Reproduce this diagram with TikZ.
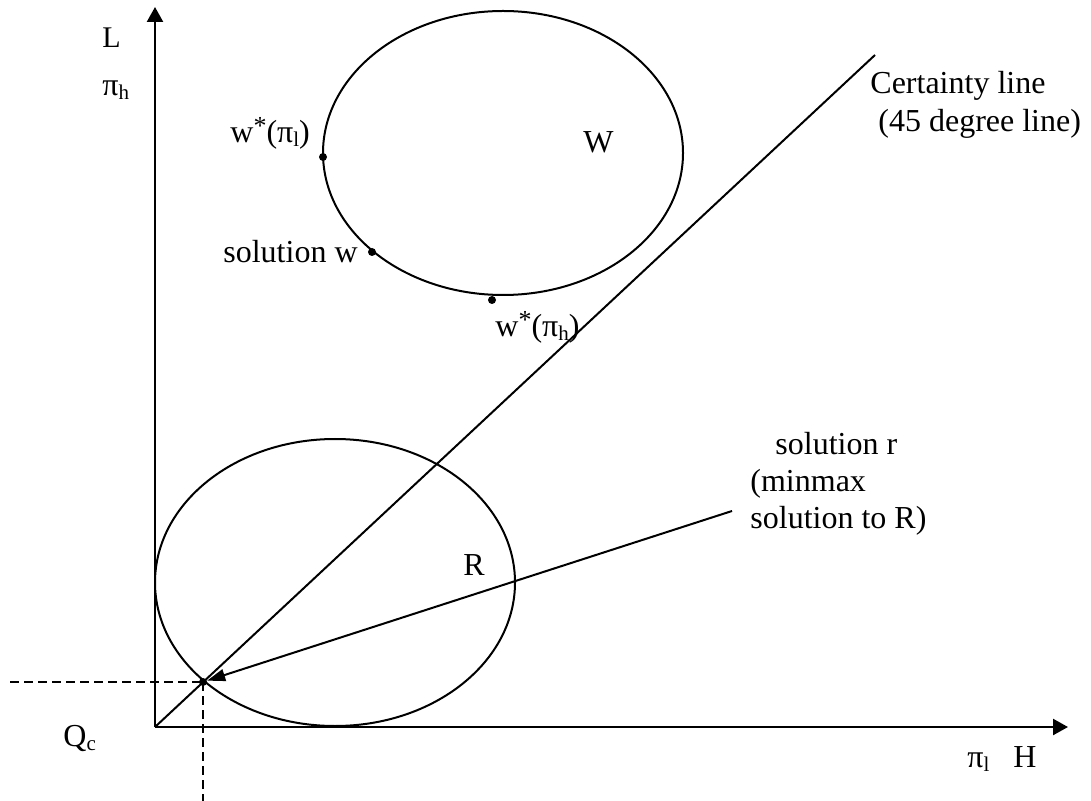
\documentclass[tikz,border=0pt]{standalone}
\usepackage{fontspec}
\setmainfont{Liberation Serif}
\usepackage{tikz}
\usetikzlibrary{arrows.meta,shapes.geometric}
\newcommand{\lowidx}[1]{\raisebox{-2pt}{\fontsize{10.5}{11}\selectfont #1}}
\newcommand{\upidx}[1]{\raisebox{4pt}{\fontsize{13}{13}\selectfont #1}}

\begin{document}
\begin{tikzpicture}[
    x=0.5pt, y=-0.5pt,
    axis/.style={
      line width=1.2pt, -{Triangle[length=7.5pt,width=8pt]}
    },
    curve/.style={line width=1pt},
    guide/.style={line width=1pt, dash pattern=on 4.5pt off 2.5pt},
    solarrow/.style={
      line width=1pt, -{Triangle[length=9pt,width=6pt]}
    },
    setshape/.style={
      ellipse, draw, line width=1pt, inner sep=0pt, outer sep=0pt
    },
    dotmark/.style={
      circle, fill=black, inner sep=0pt, minimum size=4pt
    },
    lbl/.style={
      anchor=base west, inner sep=0pt, font=\fontsize{16}{19}\selectfont
    }
  ]
  \useasboundingbox (0,0) rectangle (1091,801);

  % --- Axes ---
  \coordinate (O) at (155,727);
  \coordinate (ytop) at (155,7);
  \coordinate (xend) at (1068,727);
  \draw[axis] (O) -- (ytop);
  \draw[axis] (O) -- (xend);

  \node[lbl, font=\fontsize{15}{18}\selectfont] (Llab) at (102,48) {L};
  \node[lbl] (pihlab) at (102,96) {π\lowidx{h}};
  \node[lbl] (Qclab) at (63,746) {Q\lowidx{c}};
  \node[lbl] (Hlab) at (967,767) {π\lowidx{l}\hspace{12pt}H};

  % --- Certainty line ---
  \coordinate (ctop) at (875,55);
  \draw[curve] (O) -- (ctop);
  \node[lbl] (cert1) at (870,94) {Certainty line};
  \node[lbl] (cert2) at (878,132) {(45 degree line)};

  % --- Set W ---
  \node[setshape, minimum width=180pt, minimum height=142pt] (Wset) at (503,153) {};
  \node[lbl] (Wlab) at (583,153) {W};
  \node[dotmark] (wl) at (323,157) {};
  \node[dotmark] (ws) at (372,252) {};
  \node[dotmark] (wh) at (492,300) {};
  \node[lbl] (wllab) at (230,143) {w\upidx{*}(π\lowidx{l})};
  \node[lbl] (wslab) at (223,263) {solution w};
  \node[lbl] (whlab) at (495,337) {w\upidx{*}(π\lowidx{h})};

  % --- Set R ---
  \node[setshape, minimum width=180pt, minimum height=143.5pt] (Rset) at (335,582.5) {};
  \node[lbl] (Rlab) at (463,575) {R};

  % --- Minmax solution ---
  \node[dotmark] (sol) at (203,682) {};
  \coordinate (rstart) at (732,511);
  \coordinate (hleft) at (10,682);
  \coordinate (vlow) at (203,801);
  \draw[solarrow] (rstart) -- (sol);
  \draw[guide] (hleft) -- (sol.center);
  \draw[guide] (sol.center) -- (vlow);

  \node[lbl] (sr1) at (775,455) {solution r};
  \node[lbl] (sr2) at (750,491) {(minmax};
  \node[lbl] (sr3) at (750,528) {solution to R)};
\end{tikzpicture}
\end{document}
